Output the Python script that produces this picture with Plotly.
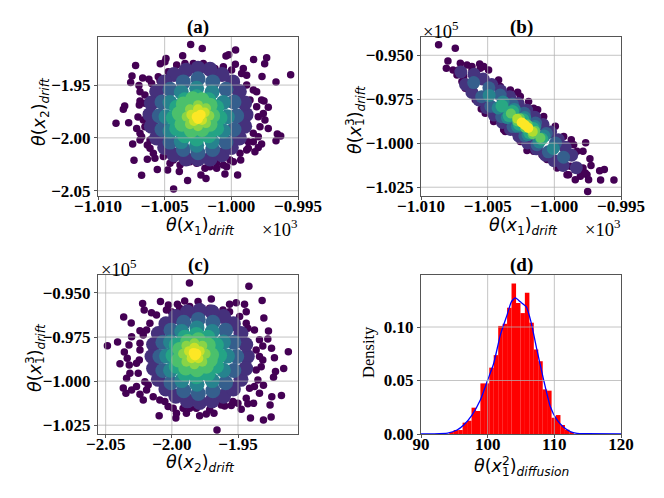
import plotly.graph_objects as go

# ---- panel (a): theta(x1)_drift, theta(x2)_drift ; one list per density level
a_level_values = [0.0, 0.14, 0.30, 0.45, 0.58, 0.71, 0.82, 0.92, 1.0]
a_levels = [
 [(-1003.05,-1.9116),(-1002.18,-1.9154),(-999.68,-1.9169),(-1000.4,-1.9226),(-1000.2,-1.9213),(-1003.65,-1.9223),(-998.33,-1.9257),(-997.35,-1.9242),(-997.5,-1.9298),(-1007.18,-1.9314),(-1004.9,-1.9248),(-1004.98,-1.9280),(-1005.33,-1.9298),(-995.55,-1.9402),(-996.65,-1.9472),(-997.7,-1.9418),(-1007.45,-1.9415),(-1007.55,-1.9475),(-1006.65,-1.9434),(-1006.18,-1.9446),(-1006.93,-1.9503),(-1008.0,-1.9698),(-1008.1,-1.9730),(-1006.85,-1.9651),(-1006.9,-1.9689),(-1008.65,-1.9862),(-1007.7,-1.9856),(-1007.0,-1.9802),(-1007.1,-1.9910),(-1006.85,-1.9957),(-997.23,-1.9711),(-997.55,-1.9651),(-996.55,-1.9963),(-996.3,-1.9982),(-996.65,-2.0026),(-997.23,-1.9910),(-1007.4,-2.0058),(-1006.85,-2.0020),(-1006.3,-2.0067),(-1006.1,-2.0099),(-1007.3,-2.0212),(-1006.3,-2.0202),(-1005.73,-2.0193),(-1006.73,-2.0354),(-1005.55,-2.0300),(-1004.78,-2.0303),(-1003.9,-2.0319),(-1004.33,-2.0483),(-1003.28,-2.0404),(-1002.28,-2.0351),(-1001.9,-2.0385),(-1000.48,-2.0341),(-999.53,-2.0351),(-999.3,-2.0209),(-998.35,-2.0036),(-997.73,-2.0058),(-997.98,-2.0092),(-998.73,-2.0036),(-1004.6,-2.0240),(-1003.6,-2.0225),(-1002.6,-2.0240),(-1000.6,-2.0256),(-1001.1,-2.0240),(-1000.1,-2.0209),(-999.1,-1.9343),(-998.85,-1.9406),(-999.7,-1.9302),(-1004.1,-1.9311),(-1003.48,-1.9295),(-1002.85,-1.9295),(-1002.1,-1.9295),(-1001.23,-1.9343),(-1005.35,-1.9459),(-998.35,-1.9547),(-997.98,-1.9799),(-997.85,-1.9894),(-998.85,-2.0114),(-1006.85,-1.9563),(-1006.35,-1.9768),(-1006.48,-1.9894),(-1001.6,-2.0272),
  (-998.1,-1.9563),(-997.73,-1.9642),(-998.1,-1.9705),(-997.6,-1.9768),(-997.48,-1.9831),(-998.35,-1.9957),(-997.98,-1.9988),(-998.6,-1.9642),(-998.85,-1.95),(-999.23,-1.939),(-999.98,-1.9358),(-1000.6,-1.9327),(-1004.73,-1.9374),(-1005.48,-1.9421),(-1005.98,-1.9484),(-1006.48,-1.9595),(-1006.48,-1.9673),(-1006.6,-1.9831),(-1006.73,-1.9988),(-1006.1,-2.002),(-1005.85,-2.0146),(-1005.1,-2.0177),(-1004.35,-2.0209),(-1003.85,-2.0256),(-1003.1,-2.0225),(-1001.98,-2.0288),(-1001.1,-2.0288),(-1000.35,-2.0272),(-999.85,-2.0225),(-999.35,-2.0146),(-998.73,-2.0099),(-998.23,-2.013)],
 [(-998.9,-1.978),(-999.0,-1.967),(-999.4,-1.956),(-999.9,-1.947),(-1000.7,-1.940),(-1001.6,-1.935),(-1002.5,-1.934),(-1003.4,-1.936),(-1004.3,-1.940),(-1005.0,-1.947),(-1005.6,-1.956),(-1006.0,-1.967),(-1006.1,-1.978),(-1006.0,-1.989),(-1005.6,-2.000),(-1005.0,-2.009),(-1004.3,-2.016),(-1003.4,-2.020),(-1002.5,-2.020),(-1001.6,-2.020),(-1000.7,-2.016),(-1000.0,-2.009),(-999.4,-2.000),(-999.0,-1.989)],
 [(-999.6,-1.979),(-999.8,-1.966),(-1000.4,-1.954),(-1001.4,-1.947),(-1002.5,-1.944),(-1003.6,-1.947),(-1004.6,-1.954),(-1005.2,-1.966),(-1005.4,-1.979),(-1005.2,-1.992),(-1004.6,-2.004),(-1003.6,-2.011),(-1002.5,-2.014),(-1001.4,-2.011),(-1000.4,-2.004),(-999.8,-1.992)],
 [(-1000.3,-1.980),(-1000.6,-1.9665),(-1001.45,-1.9565),(-1002.6,-1.953),(-1003.75,-1.9565),(-1004.6,-1.9665),(-1004.9,-1.980),(-1004.6,-1.9935),(-1003.75,-2.0035),(-1002.6,-2.007),(-1001.45,-2.0035),(-1000.6,-1.9935)],
 [(-1000.85,-1.981),(-1001.1,-1.971),(-1001.7,-1.964),(-1002.6,-1.961),(-1003.5,-1.964),(-1004.1,-1.971),(-1004.35,-1.981),(-1004.1,-1.991),(-1003.5,-1.998),(-1002.6,-2.001),(-1001.7,-1.998),(-1001.1,-1.991)],
 [(-1001.4,-1.979),(-1001.6,-1.969),(-1002.2,-1.964),(-1002.9,-1.963),(-1003.6,-1.968),(-1003.9,-1.977),(-1003.7,-1.987),(-1003.0,-1.993),(-1002.2,-1.992),(-1001.6,-1.987)],
 [(-1001.65,-1.979),(-1001.9,-1.972),(-1002.5,-1.969),(-1003.1,-1.973),(-1003.35,-1.980),(-1003.1,-1.987),(-1002.5,-1.989),(-1001.9,-1.986)],
 [(-1002.0,-1.976),(-1002.5,-1.973),(-1003.0,-1.978),(-1002.8,-1.984),(-1002.2,-1.983)],
 [(-1002.6,-1.980),(-1002.3,-1.978),(-1002.5,-1.982)],
]

# ---- panel (b): theta(x1)_drift, theta(x1^3)_drift
b_level_values = [0.0, 0.15, 0.30, 0.45, 0.60, 0.75, 0.88, 1.0]
b_levels = [
 [(-1008.68,-.9440),(-1007.43,-.9460),(-1007.98,-.9532),(-1008.1,-.9574),(-1007.05,-.9545),(-1005.6,-.9549),(-1004.93,-.9583),(-1004.18,-.9640),(-1007.6,-.9583),(-1006.93,-.9649),(-1006.68,-.9687),(-1006.05,-.9725),(-1005.48,-.9806),(-1005.48,-.9768),(-1002.75,-.9710),(-1001.93,-.9763),(-1001.25,-.9810),(-1003.68,-.9933),(-1002.93,-.9942),(-1002.05,-1.0041),(-1000.93,-1.0065),(-998.73,-.9980),(-997.65,-.9997),(-997.85,-1.0046),(-997.33,-1.0088),(-997.25,-1.0127),(-996.6,-1.0156),(-996.25,-1.0150),(-995.53,-1.0209),(-996.53,-1.0209),(-997.5,-1.0275),(-997.43,-1.0207),(-997.55,-1.0179),(-998.05,-1.0188),(-998.43,-1.0207),(-998.93,-1.0179),(-997.85,-1.0141),(-998.3,-1.0046),(-998.8,-1.0131),(-999.55,-1.0093),(-998.55,-1.0008),(-1006.55,-.9555),(-1006.18,-.9583),(-1005.3,-.9564),(-1007.3,-.9612),
  (-1004.05,-.9678),(-1003.3,-.9697),(-1002.55,-.9734),(-1001.55,-.9801),(-1000.8,-.9848),(-999.93,-.9904),(-999.3,-.9961),(-998.93,-1.0008),(-1005.93,-.9753),(-1005.18,-.9829),(-1004.55,-.9876),(-1003.8,-.9923),(-1002.55,-.999),(-1001.55,-1.0046),(-1000.55,-1.0093),(-999.8,-1.0141),(-999.05,-1.0179),(-1006.18,-.9564),(-1007.18,-.9583),(-1006.8,-.9621),(-1005.55,-.9574),(-998.05,-1.015),(-997.68,-1.0169)],
 [(-1007.01,-.9595),(-1006.02,-.9608),(-1006.66,-.9666),(-1005.34,-.9635),(-1006.18,-.9711),(-1004.70,-.9666),(-1005.66,-.9754),(-1004.02,-.9702),(-1005.08,-.9798),(-1003.35,-.9736),(-1004.51,-.9840),(-1002.71,-.9774),(-1003.89,-.9882),(-1002.07,-.9812),(-1003.29,-.9922),(-1001.47,-.9852),(-1002.65,-.9960),(-1000.85,-.9894),(-1002.01,-.9998),(-1000.28,-.9936),(-1001.34,-1.0032),(-999.70,-.9980),(-1000.66,-1.0068),(-999.18,-1.0023),(-1000.02,-1.0099),(-998.70,-1.0068),(-999.34,-1.0126),(-998.35,-1.0139)],
 [(-1006.05,-.9655),(-1004.91,-.9685),(-1005.45,-.9735),(-1004.06,-.9726),(-1004.76,-.9790),(-1003.15,-.9777),(-1003.95,-.9849),(-1002.26,-.9829),(-1003.10,-.9905),(-1001.41,-.9885),(-1002.21,-.9957),(-1000.60,-.9944),(-1001.30,-1.0008),(-999.91,-.9999),(-1000.45,-1.0049),(-999.31,-1.0079)],
 [(-1004.89,-.9728),(-1003.84,-.9765),(-1004.22,-.9799),(-1003.00,-.9808),(-1003.52,-.9854),(-1002.22,-.9854),(-1002.76,-.9904),(-1001.46,-.9905),(-1001.98,-.9951),(-1000.76,-.9959),(-1001.14,-.9993),(-1000.08,-1.0030)],
 [(-1003.93,-.9788),(-1003.13,-.9819),(-1003.39,-.9843),(-1002.35,-.9866),(-1002.63,-.9892),(-1001.59,-.9916),(-1001.85,-.9940),(-1000.95,-.9976)],
 [(-1003.26,-.9831),(-1002.58,-.9858),(-1002.78,-.9876),(-1002.0,-.9894),(-1002.2,-.9912),(-1001.43,-.9931),(-1001.63,-.9949),(-1001.04,-.9970)],
 [(-1002.78,-.9861),(-1002.39,-.9885),(-1002.01,-.9909),(-1001.62,-.9934)],
 [(-1002.45,-.9882),(-1002.2,-.9897),(-1001.95,-.9913)],
]

# ---- panel (c): theta(x2)_drift, theta(x1^3)_drift
c_level_values = [0.0, 0.14, 0.30, 0.45, 0.58, 0.71, 0.82, 0.92, 1.0]
c_levels = [
 [(-1.9867,-.9443),(-1.9418,-.9462),(-1.9318,-.9543),(-1.9702,-.9534),(-2.0221,-.9559),(-2.0086,-.9549),(-2.0026,-.9568),(-1.9958,-.9564),(-1.9903,-.9545),(-1.9802,-.9549),(-1.9564,-.9564),(-1.9514,-.9555),(-1.9451,-.9564),(-2.0364,-.9636),(-2.0307,-.9670),(-2.0209,-.9596),(-2.0154,-.9612),(-1.9438,-.9606),(-1.9305,-.9642),(-1.9270,-.9715),(-2.0487,-.9800),(-2.0410,-.9778),(-2.0359,-.9835),(-2.0324,-.9795),(-2.0304,-.9748),(-2.0241,-.9714),(-2.0392,-.9901),(-2.0337,-.9870),(-2.0322,-.9908),(-2.0342,-.9984),(-2.0317,-.9955),(-2.0367,-1.0039),(-2.0347,-1.0069),(-2.0304,-1.0050),(-2.0267,-1.0031),(-2.0241,-1.0075),(-2.0216,-1.0107),(-2.0191,-1.0050),(-2.0096,-1.0196),(-1.9970,-1.0209),(-1.9965,-1.0182),(-1.9890,-1.0182),(-1.9790,-1.0197),(-1.9740,-1.0186),(-1.9682,-1.0182),(-1.9659,-1.0277),(-1.9601,-1.0141),(-1.9551,-1.0139),(-1.9501,-1.0126),(-1.9476,-1.0160),(-1.9406,-1.0209),(-1.9308,-1.0220),(-1.9250,-1.0203),(-1.9426,-1.0129),(-1.9383,-1.0126),(-1.9258,-1.0135),(-1.9245,-1.0088),(-1.9172,-1.0082),(-1.9338,-1.0069),(-1.9308,-1.0024),(-1.9376,-1.0031),(-1.9232,-.9978),(-1.9217,-.9946),(-1.9155,-.9929),(-1.9120,-.9833),(-1.9225,-.9867),(-1.9247,-.9814),(-1.9313,-.9801),(-1.9275,-.9761),(-1.9313,-.9880),(-1.9325,-.9918),(-1.9376,-.9710),(-1.9426,-.9700),(-2.0241,-.9823),(-2.0246,-.9880),(-2.0254,-.9955),(-2.0204,-1.0003),(-2.0091,-1.0107),(-2.0028,-1.0144),(-1.9865,-1.0154),(-1.9614,-.9596),(-1.9677,-.9596),(-1.9865,-.9577),(-2.0003,-.9606),
  (-2.0116,-.9625),(-2.0041,-.9596),(-1.994,-.9587),(-1.979,-.9577),(-1.9714,-.9587),(-1.9564,-.9606),(-1.9488,-.9634),(-1.9438,-.9672),(-1.9338,-.9766),(-1.9363,-.9823),(-1.9338,-.9861),(-1.9363,-.9937),(-1.935,-.9993),(-1.9413,-1.0041),(-1.9438,-1.0097),(-1.9539,-1.0116),(-1.9627,-1.0135),(-1.9714,-1.0163),(-1.9815,-1.0154),(-1.9915,-1.0154),(-1.999,-1.0154),(-2.0053,-1.0116),(-2.0141,-1.0088),(-2.0179,-1.0022),(-2.0267,-.9899),(-2.0241,-.9785),(-2.0216,-.9738),(-2.0166,-.9672),(-2.0191,-.971)],
 [(-1.9430,-.9860),(-1.9442,-.9792),(-1.9478,-.9730),(-1.9535,-.9675),(-1.9610,-.9634),(-1.9697,-.9608),(-1.9790,-.9599),(-1.9883,-.9608),(-1.9970,-.9634),(-2.0045,-.9675),(-2.0102,-.9730),(-2.0138,-.9792),(-2.0150,-.9860),(-2.0138,-.9928),(-2.0102,-.9990),(-2.0045,-1.0045),(-1.9970,-1.0086),(-1.9883,-1.0112),(-1.9790,-1.0121),(-1.9697,-1.0112),(-1.9610,-1.0086),(-1.9535,-1.0045),(-1.9478,-.9990),(-1.9442,-.9928)],
 [(-1.951,-.986),(-1.9532,-.978),(-1.9594,-.9711),(-1.969,-.9666),(-1.98,-.965),(-1.991,-.9666),(-2.0006,-.9711),(-2.0068,-.978),(-2.009,-.986),(-2.0068,-.994),(-2.0006,-1.0009),(-1.991,-1.0054),(-1.98,-1.007),(-1.969,-1.0054),(-1.9594,-1.0009),(-1.9532,-.994)],
 [(-1.958,-.9858),(-1.961,-.9778),(-1.9695,-.9719),(-1.981,-.9698),(-1.9925,-.9719),(-2.001,-.9778),(-2.004,-.9858),(-2.001,-.9938),(-1.9925,-.9997),(-1.981,-1.0018),(-1.9695,-.9997),(-1.961,-.9938)],
 [(-1.9639,-.9855),(-1.9663,-.9795),(-1.9727,-.9751),(-1.9815,-.9735),(-1.9903,-.9751),(-1.9967,-.9795),(-1.9991,-.9855),(-1.9967,-.9915),(-1.9903,-.9959),(-1.9815,-.9975),(-1.9727,-.9959),(-1.9663,-.9915)],
 [(-1.970,-.9850),(-1.9725,-.9795),(-1.980,-.9765),(-1.988,-.9775),(-1.994,-.982),(-1.995,-.988),(-1.9895,-.9925),(-1.981,-.9935),(-1.974,-.9915),(-1.971,-.988)],
 [(-1.9745,-.9845),(-1.977,-.980),(-1.983,-.9785),(-1.989,-.980),(-1.9915,-.9845),(-1.989,-.989),(-1.983,-.9905),(-1.977,-.989)],
 [(-1.979,-.983),(-1.983,-.981),(-1.987,-.983),(-1.985,-.987),(-1.980,-.987)],
 [(-1.9835,-.9840),(-1.9815,-.9845),(-1.9825,-.9855)],
]

# ---- panel (d): histogram and density curve of theta(x1^2)_diffusion
hist_centers = [94.58,95.25,95.92,96.58,97.25,97.92,98.58,99.25,99.92,100.58,101.25,101.92,102.58,103.25,103.92,104.58,105.25,105.92,106.58,107.25,107.92,108.58,109.25,109.92,110.58,111.25,111.92,112.58]
hist_density = [.0012,.0037,.0037,.0106,.0124,.0246,.0215,.0473,.0473,.062,.0737,.101,.103,.118,.1406,.1225,.113,.132,.104,.079,.068,.0417,.0405,.0152,.0177,.0084,.004,.0012]
kde_x = [90,92,94,95.4,96.4,97.65,98.9,100,100.9,101.9,102.9,103.55,104.15,104.9,105.8,106.5,107.4,108.4,109.4,110.4,111.4,112.4,113.4,114.9,120]
kde_y = [.0002,.0002,.0008,.0037,.0084,.0177,.0317,.0504,.0659,.0924,.1111,.1235,.1272,.1235,.1188,.1048,.0784,.0504,.0255,.0131,.0062,.0022,.0006,.0003,.0]

x1_ticks = [-1010,-1005,-1000,-995]
x1_labels = ["−1.010","−1.005","−1.000","−0.995"]
x2h_ticks = [-2.05,-2.00,-1.95]
x2h_labels = ["−2.05","−2.00","−1.95"]
x3_ticks = [-.95,-.975,-1.0,-1.025]
x3_labels = ["−0.950","−0.975","−1.000","−1.025"]
d_xticks = [90,100,110,120]
d_yticks = [0,.05,.10]
d_ylabels = ["0.00","0.05","0.10"]

W, H = 664, 498
SERIF = "Liberation Serif"
SANS = "DejaVu Sans"
GRID = "rgba(176,176,176,0.75)"
FRAME = "#555555"

fig = go.Figure()

def scatter(levels, values, ax, body_size):
    xs, ys, ds = [], [], []
    for pts, v in zip(levels, values):
        for (px, py) in pts:
            xs.append(px); ys.append(py); ds.append(v)
    sizes = [7.5 if d == 0 else (body_size if d < 0.74 else 10) for d in ds]
    fig.add_trace(go.Scatter(x=xs, y=ys, mode="markers", xaxis="x"+ax, yaxis="y"+ax,
        marker=dict(color=ds, colorscale="Viridis", cmin=0, cmax=1, size=sizes, opacity=1, line=dict(width=0)),
        showlegend=False, hoverinfo="skip", cliponaxis=True))

scatter(a_levels, a_level_values, "", 15)
scatter(b_levels, b_level_values, "2", 13)
scatter(c_levels, c_level_values, "3", 15)
fig.add_trace(go.Bar(x=hist_centers, y=hist_density, width=0.68, marker=dict(color="#ff0000", line=dict(width=0)),
                     xaxis="x4", yaxis="y4", showlegend=False, hoverinfo="skip"))
fig.add_trace(go.Scatter(x=kde_x, y=kde_y, mode="lines", line=dict(color="#0000ff", width=1.3, shape="spline", smoothing=0.5),
                         xaxis="x4", yaxis="y4", showlegend=False, hoverinfo="skip"))

def dom_x(l, r): return [l/W, r/W]
def dom_y(t, b): return [1-b/H, 1-t/H]

def axis(domain, rng, ticks, labels, anchor, standoff=0):
    return dict(domain=domain, range=rng, tickmode="array", tickvals=ticks, ticktext=labels, anchor=anchor,
                showgrid=False, zeroline=False, showline=True, mirror=True, linecolor=FRAME, linewidth=1,
                ticks="outside", ticklen=3, tickcolor=FRAME, tickwidth=1, automargin=False, ticklabelstandoff=standoff,
                tickfont=dict(family=SERIF, size=17, color="#000000", weight="bold"))

L, R, T, B = (98,298), (421,621), (37,196), (275,434)
fig.update_layout(
    width=W, height=H, margin=dict(l=0,r=0,t=0,b=0,autoexpand=False), paper_bgcolor="white", plot_bgcolor="white",
    xaxis=axis(dom_x(*L), [-1010,-995], x1_ticks, x1_labels, "y", -8),
    yaxis=axis(dom_y(*T), [-2.055,-1.9045], x2h_ticks, x2h_labels, "x"),
    xaxis2=axis(dom_x(*R), [-1010,-995], x1_ticks, x1_labels, "y2", -8),
    yaxis2=axis(dom_y(*T), [-1.030,-.9396], x3_ticks, x3_labels, "x2"),
    xaxis3=axis(dom_x(*L), [-2.0558,-1.9047], x2h_ticks, x2h_labels, "y3", -8),
    yaxis3=axis(dom_y(*B), [-1.030,-.9398], x3_ticks, x3_labels, "x3"),
    xaxis4=axis(dom_x(*R), [90,120], d_xticks, [str(t) for t in d_xticks], "y4", -8),
    yaxis4=axis(dom_y(*B), [0,.1486], d_yticks, d_ylabels, "x4"),
)

shapes = []
def grid(ax, xt, yt):
    for t in xt:
        shapes.append(dict(type="line", xref="x"+ax, yref="y"+ax+" domain", x0=t, x1=t, y0=0, y1=1, layer="above", line=dict(color=GRID, width=1)))
    for t in yt:
        shapes.append(dict(type="line", xref="x"+ax+" domain", yref="y"+ax, x0=0, x1=1, y0=t, y1=t, layer="above", line=dict(color=GRID, width=1)))
grid("", x1_ticks[1:3], x2h_ticks)
grid("2", x1_ticks[1:3], x3_ticks)
grid("3", x2h_ticks, x3_ticks)
grid("4", d_xticks[1:3], d_yticks[1:])
fig.update_layout(shapes=shapes)

def note(px, py, text, size=17.5, family=SANS, angle=0, anchor="center"):
    fig.add_annotation(x=px/W, y=1-py/H, xref="paper", yref="paper", text=text, showarrow=False, textangle=angle,
                       xanchor=anchor, yanchor="middle", font=dict(family=family, size=size, color="#000000"))

drift = "<sub><i>drift</i></sub>"
th = lambda s: "<i>θ</i>(<i>x</i><sub>%s</sub>)" % s
cube = "<i>θ</i>(<i>x</i><sup>3</sup>)" + drift
for px, py, t in [(198,27,"(a)"),(521,27,"(b)"),(198,265,"(c)"),(521,265,"(d)")]:
    note(px, py, "<b>%s</b>" % t, size=19, family=SERIF)
note(200,226, th("1")+drift)
note(523,226, th("1")+drift)
note(200,463, th("2")+drift)
note(521,466, "<i>θ</i>(<i>x</i><sup>2</sup>)<sub><i>diffusion</i></sub>")
note(506,472, "1", size=12)
note(40,112, th("2")+drift, angle=-90)
note(355,120, cube, angle=-90)
note(360,122, "1", size=12, angle=-90)
note(35,358, cube, angle=-90)
note(40,360, "1", size=12, angle=-90)
note(368,352, "Density", size=16.5, family=SERIF, angle=-90)
for px, py in [(279,228),(602,228)]:
    note(px, py, "×10<sup>3</sup>", size=18.5, family=SERIF)
for px, py in [(118,268),(440,30)]:
    note(px, py, "×10<sup>5</sup>", size=18.5, family=SERIF)

fig.write_html("out.html", config=dict(displayModeBar=False),
               post_script="document.body.style.margin='0';document.body.style.overflow='hidden';")
